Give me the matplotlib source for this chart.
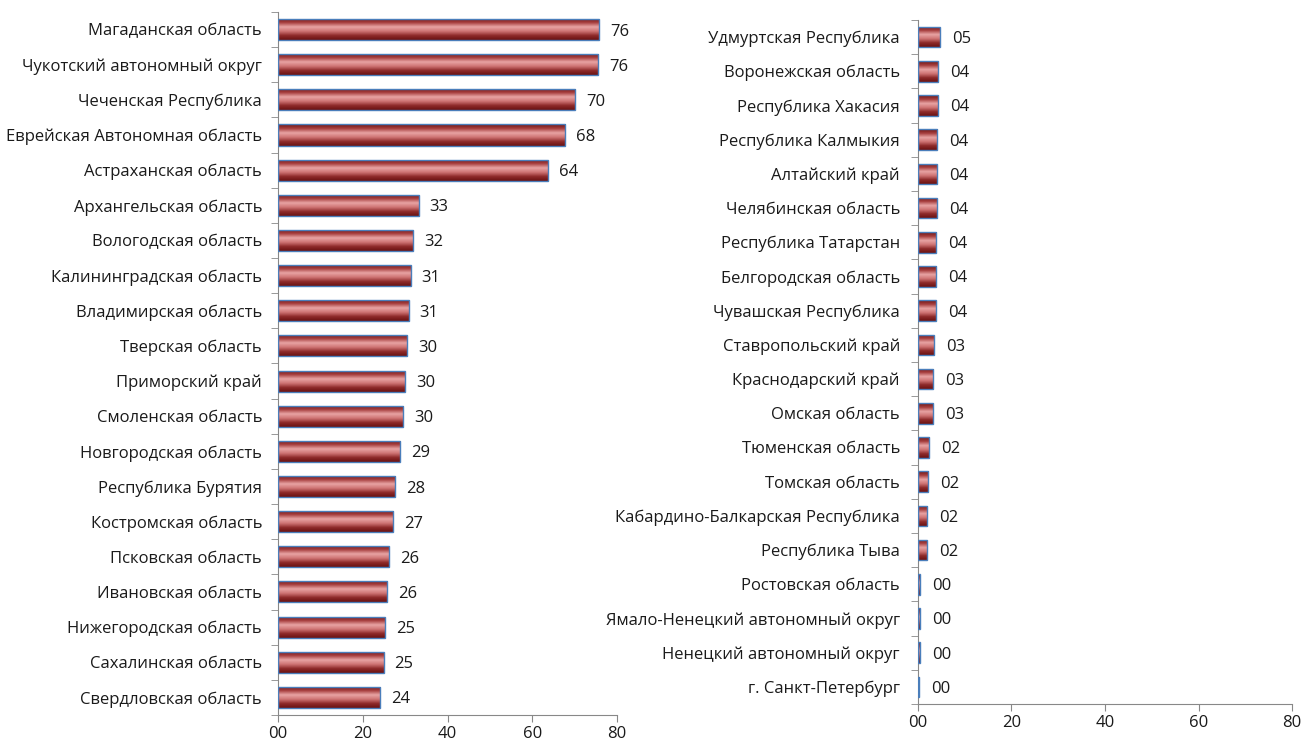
import matplotlib.pyplot as plt
import numpy as np
from matplotlib.colors import LinearSegmentedColormap

plt.rcParams['font.family'] = ['Open Sans', 'DejaVu Sans']

# top regions (left panel)
left_names = ['Магаданская область', 'Чукотский автономный округ', 'Чеченская Республика',
              'Еврейская Автономная область', 'Астраханская область', 'Архангельская область',
              'Вологодская область', 'Калининградская область', 'Владимирская область',
              'Тверская область', 'Приморский край', 'Смоленская область',
              'Новгородская область', 'Республика Бурятия', 'Костромская область',
              'Псковская область', 'Ивановская область', 'Нижегородская область',
              'Сахалинская область', 'Свердловская область']
left_vals = [75.7, 75.6, 70.1, 67.8, 63.7, 33.2, 31.8, 31.3, 30.8, 30.4,
             29.9, 29.6, 28.8, 27.7, 27.2, 26.1, 25.8, 25.2, 24.9, 24.1]

# bottom regions (right panel)
right_names = ['Удмуртская Республика', 'Воронежская область', 'Республика Хакасия',
               'Республика Калмыкия', 'Алтайский край', 'Челябинская область',
               'Республика Татарстан', 'Белгородская область', 'Чувашская Республика',
               'Ставропольский край', 'Краснодарский край', 'Омская область',
               'Тюменская область', 'Томская область', 'Кабардино-Балкарская Республика',
               'Республика Тыва', 'Ростовская область', 'Ямало-Ненецкий автономный округ',
               'Ненецкий автономный округ', 'г. Санкт-Петербург']
right_vals = [4.7, 4.2, 4.2, 4.1, 4.0, 4.0, 3.9, 3.9, 3.8, 3.4,
              3.3, 3.2, 2.4, 2.2, 2.0, 1.9, 0.4, 0.4, 0.4, 0.3]

xticks = [0, 20, 40, 60, 80]

cmap = LinearSegmentedColormap.from_list('cyl', ['#6e1414', '#a84040', '#e8a4a4', '#cf7474', '#8e2a2a', '#6a1212'])
grad = np.linspace(0, 1, 64).reshape(-1, 1)
txt = '#1a1a1a'
fs = 12

fig = plt.figure(figsize=(13.01, 7.46), dpi=100)


def panel(rect, names, vals, ypad):
    ax = fig.add_axes(rect)
    n = len(names)
    y = np.arange(n)
    h = 0.6
    bars = ax.barh(y, vals, height=h, facecolor='none', edgecolor='#4a7ebb', linewidth=1.0, zorder=3)
    for b, v, yy in zip(bars, vals, y):
        im = ax.imshow(grad, extent=[0, v, yy + h / 2, yy - h / 2], aspect='auto', cmap=cmap, zorder=2)
        im.set_clip_path(b)
        ax.text(v + 2.6, yy, '%02.0f' % v, va='center_baseline', ha='left', fontsize=fs, color=txt)
    ax.set_xlim(0, 80)
    ax.set_ylim(n - 0.5, -0.5)
    ax.set_xticks(xticks)
    ax.set_xticklabels(['%02d' % t for t in xticks], fontsize=fs, color=txt)
    ax.set_yticks(y)
    ax.set_yticklabels(names, fontsize=fs, color=txt)
    ax.set_yticks(np.arange(n + 1) - 0.5, minor=True)
    ax.tick_params(axis='y', which='major', length=0, pad=ypad)
    ax.tick_params(axis='y', which='minor', length=5, color='#888888')
    ax.tick_params(axis='x', length=5, color='#888888', pad=3)
    for s in ['top', 'right']:
        ax.spines[s].set_visible(False)
    for s in ['left', 'bottom']:
        ax.spines[s].set_color('#888888')
    return ax


panel([0.2137, 0.0416, 0.2606, 0.9423], left_names, left_vals, 11.5)
panel([0.7056, 0.0563, 0.2875, 0.9169], right_names, right_vals, 13)

fig.savefig('out.png', dpi=100)
